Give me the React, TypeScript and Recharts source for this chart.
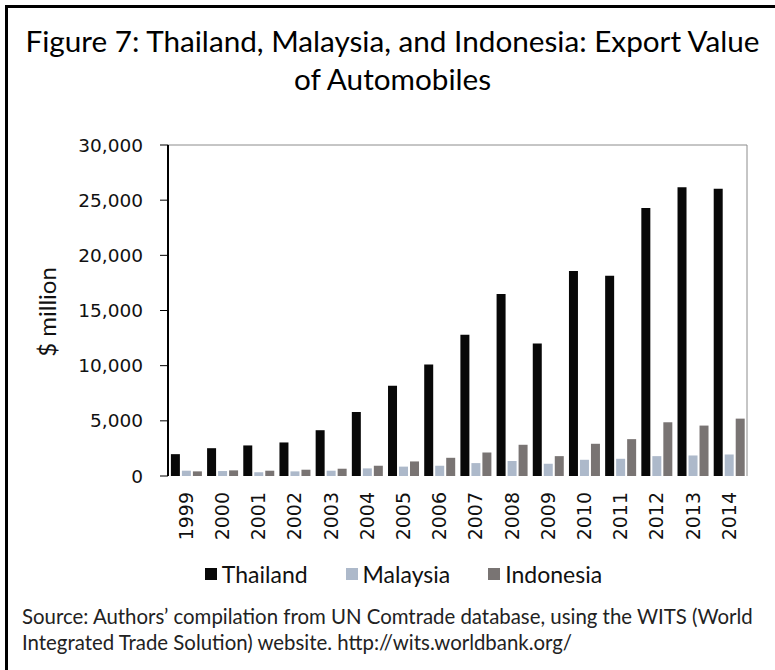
import React from 'react';
import { BarChart, Bar, XAxis, YAxis, ReferenceLine, Legend } from 'recharts';

const years = ['1999', '2000', '2001', '2002', '2003', '2004', '2005', '2006', '2007', '2008', '2009', '2010', '2011', '2012', '2013', '2014'];
const thailand = [1980, 2520, 2770, 3040, 4150, 5800, 8180, 10100, 12800, 16500, 12000, 18580, 18150, 24290, 26180, 26030];
const malaysia = [480, 450, 330, 420, 480, 690, 850, 930, 1170, 1350, 1110, 1470, 1560, 1800, 1860, 1950];
const indonesia = [420, 510, 480, 570, 660, 930, 1320, 1650, 2130, 2830, 1800, 2920, 3340, 4870, 4570, 5200];
const seriesNames = ['Thailand', 'Malaysia', 'Indonesia'];
const yTicks = [0, 5000, 10000, 15000, 20000, 25000, 30000];
const boundaryTicks = years.map((_, i) => i).concat([years.length]);

const data = years.map((year, i) => ({
  year,
  idx: i + 0.5,
  Thailand: thailand[i],
  Malaysia: malaysia[i],
  Indonesia: indonesia[i],
}));

const textFont = 'Lato, "Open Sans", sans-serif';
const tickFont = '"DejaVu Sans", sans-serif';

const YearTick = (props: any) => {
  const { x, y, payload } = props;
  return (
    <text
      x={x}
      y={y}
      transform={`rotate(-90, ${x}, ${y})`}
      textAnchor="end"
      dy="0.36em"
      fontSize={19}
      fontFamily={tickFont}
      fill="#111"
    >
      {payload.value}
    </text>
  );
};

const LegendContent = (props: any) => {
  const items = [...(props.payload || [])].sort(
    (a: any, b: any) => seriesNames.indexOf(a.value) - seriesNames.indexOf(b.value)
  );
  return (
    <div style={{ display: 'flex', justifyContent: 'center', fontFamily: textFont, fontSize: 23, color: '#111' }}>
      {items.map((entry: any) => (
        <div key={entry.value} style={{ display: 'flex', alignItems: 'center', margin: '0 19px' }}>
          <span style={{ width: 12, height: 12, background: entry.color, display: 'inline-block', marginRight: 5 }} />
          <span>{entry.value}</span>
        </div>
      ))}
    </div>
  );
};

export default function App() {
  return (
    <div style={{ position: 'absolute', left: 0, top: 0, width: 775, height: 670, background: '#fff', overflow: 'hidden' }}>
      <div style={{ position: 'absolute', left: 5, top: 5, right: 0, bottom: 0, borderTop: '3px solid #000', borderLeft: '3px solid #000' }} />
      <div
        style={{
          position: 'absolute', left: 10, top: 22, width: 765, textAlign: 'center',
          fontFamily: textFont, fontSize: 29.7, lineHeight: '38px', color: '#000',
        }}
      >
        Figure 7: Thailand, Malaysia, and Indonesia: Export Value
        <br />
        of Automobiles
      </div>
      <div
        style={{
          position: 'absolute', left: 46, top: 312, transform: 'translate(-50%, -50%) rotate(-90deg)',
          fontFamily: textFont, fontSize: 24, color: '#111', whiteSpace: 'nowrap',
        }}
      >
        $ million
      </div>

      <div style={{ position: 'absolute', left: 0, top: 0 }}>
        <BarChart
          width={775}
          height={600}
          data={data}
          margin={{ top: 145, right: 27, left: 60, bottom: 0 }}
          barCategoryGap="8%"
          barGap={2}
        >
          <XAxis
            xAxisId="grid"
            type="number"
            dataKey="idx"
            domain={[0, years.length]}
            ticks={boundaryTicks}
            tick={false}
            tickSize={7}
            height={0}
            axisLine={{ stroke: '#000', strokeWidth: 2 }}
            tickLine={{ stroke: '#000', strokeWidth: 1.5 }}
          />
          <XAxis
            xAxisId="cat"
            dataKey="year"
            interval={0}
            axisLine={false}
            tickLine={false}
            tickSize={0}
            tickMargin={16}
            height={96}
            tick={<YearTick />}
          />
          <YAxis
            yAxisId="left"
            domain={[0, 30000]}
            ticks={yTicks}
            width={108}
            tickSize={8}
            tickMargin={17}
            tickFormatter={(v: number) => v.toLocaleString('en-US')}
            tick={{ fontSize: 18.5, fontFamily: tickFont, fill: '#111' }}
            axisLine={{ stroke: '#000', strokeWidth: 2 }}
            tickLine={{ stroke: '#000', strokeWidth: 1 }}
          />
          <YAxis
            yAxisId="right"
            orientation="right"
            domain={[0, 30000]}
            width={1}
            tick={false}
            tickLine={false}
            axisLine={{ stroke: '#8c8c8c', strokeWidth: 1 }}
          />
          <ReferenceLine yAxisId="left" xAxisId="cat" y={30000} stroke="#8c8c8c" strokeWidth={1} />
          <Legend
            content={<LegendContent />}
            wrapperStyle={{ position: 'absolute', top: 560, left: 16, width: 775 }}
          />
          <Bar xAxisId="cat" yAxisId="left" dataKey="Thailand" fill="#080808" isAnimationActive={false} />
          <Bar xAxisId="cat" yAxisId="left" dataKey="Malaysia" fill="#adb9ca" isAnimationActive={false} />
          <Bar xAxisId="cat" yAxisId="left" dataKey="Indonesia" fill="#797473" isAnimationActive={false} />
        </BarChart>
      </div>

      <div
        style={{
          position: 'absolute', left: 22, top: 603, width: 760,
          fontFamily: textFont, fontSize: 20.4, lineHeight: '26px', color: '#222', whiteSpace: 'nowrap',
        }}
      >
        Source: Authors’ compilation from UN Comtrade database, using the WITS (World
        <br />
        Integrated Trade Solution) website. http://wits.worldbank.org/
      </div>
    </div>
  );
}
